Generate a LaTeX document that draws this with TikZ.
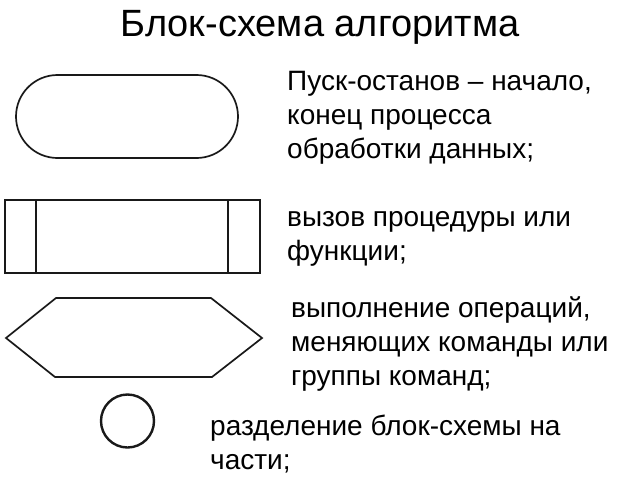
\documentclass[tikz,border=0pt]{standalone}
\usepackage{fontspec}
\setmainfont{Liberation Sans}
\begin{document}
\begin{tikzpicture}[x=1pt,y=-1pt,
  shp/.style={draw=black!90,line width=1.7pt},
  desc/.style={anchor=base west,inner sep=0pt,align=left,font=\fontsize{28}{34}\selectfont}]
\useasboundingbox (0,0) rectangle (640,480);
\node[anchor=base,inner sep=0pt,font=\fontsize{38}{44}\selectfont] (title) at (320,36) {Блок-схема алгоритма};
% terminator
\draw[shp,rounded corners=41.5pt] (16,75) rectangle (238,158);
\coordinate (term) at (127,116);
% predefined process
\draw[shp] (5,200) rectangle (260,273);
\draw[shp] (36,200) -- (36,273);
\draw[shp] (228,200) -- (228,273);
% hexagon
\draw[shp] (6,338) -- (56,298) -- (211,298) -- (262,338) -- (212,377) -- (55,377) -- cycle;
% connector circle
\draw[shp,line width=2.4pt] (127.5,421) circle[radius=26.5];
\node[desc] (t1) at (287,158) {Пуск-останов – начало,\\конец процесса\\обработки данных;};
\node[desc] (t2) at (287,260) {вызов процедуры или\\функции;};
\node[desc] (t3) at (291,385) {выполнение операций,\\меняющих команды или\\группы команд;};
\node[desc] (t4) at (210,469) {разделение блок-схемы на\\части;};
\end{tikzpicture}
\end{document}
